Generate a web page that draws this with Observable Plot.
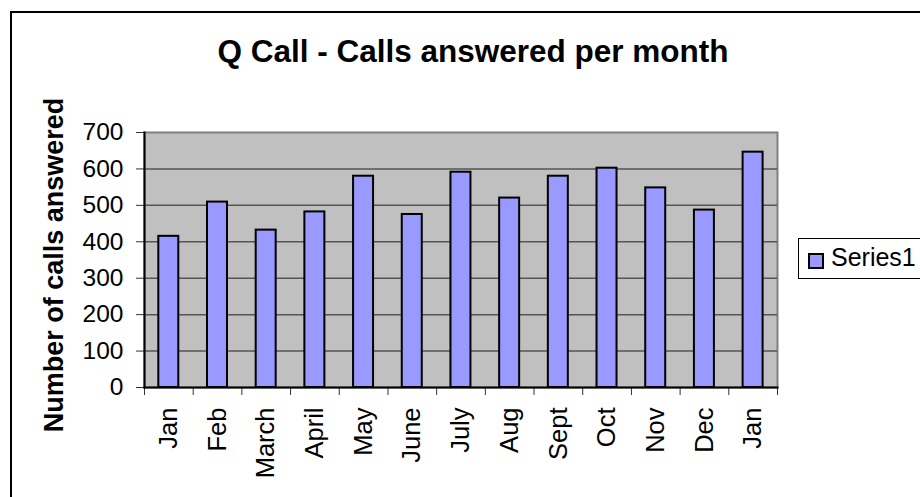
<!DOCTYPE html>
<html><head><meta charset="utf-8">
<script src="https://cdn.jsdelivr.net/npm/d3@7"></script>
<script src="https://cdn.jsdelivr.net/npm/@observablehq/plot@0.6"></script>
<style>
body{margin:0;background:#fff;font-family:Arial,"Liberation Sans",sans-serif;}
#wrap{position:relative;width:920px;height:497px;overflow:hidden;}
#border{position:absolute;left:10px;top:11px;width:1000px;height:1000px;border:2px solid #000;box-sizing:border-box;pointer-events:none;}
#legend{position:absolute;left:798px;top:238px;width:200px;height:41px;border:1px solid #000;box-sizing:border-box;background:#fff;}
#legend .sw{position:absolute;left:9px;top:14px;width:12px;height:12px;background:#9999ff;border:2px solid #000;}
#legend .lb{position:absolute;left:32px;top:6px;font-size:25px;line-height:25px;color:#000;white-space:nowrap;}
</style></head>
<body>
<div id="wrap">
<div id="chart"></div>
<div id="border"></div>
<div id="legend"><div class="sw"></div><div class="lb">Series1</div></div>
</div>
<script>
const months = ["Jan","Feb","March","April","May","June","July","Aug","Sept","Oct","Nov","Dec","Jan"];
const calls = [415, 509, 432, 482, 580, 475, 591, 520, 580, 602, 548, 487, 646];
const yTicks = [0,100,200,300,400,500,600,700];
const title = "Q Call - Calls answered per month";
const yLabel = "Number of calls answered";

const data = months.map((m,i)=>({i, m, v: calls[i]}));
const font = "Arial, 'Liberation Sans', sans-serif";

const chart = Plot.plot({
  width: 920, height: 497,
  marginLeft: 144, marginRight: 143, marginTop: 132, marginBottom: 110,
  style: {fontFamily: font, fontSize: "24.5px", color: "#000", background: "transparent", overflow: "visible"},
  x: {domain: [0, months.length], axis: null},
  y: {domain: [0, 700], axis: null},
  marks: [
    Plot.frame({fill: "#c0c0c0", stroke: "#808080", strokeWidth: 2}),
    Plot.ruleY(yTicks.slice(1, -1), {stroke: "#555", strokeWidth: 1.5}),
    Plot.rectY(data, {x1: "i", x2: d => d.i + 1, y: "v", insetLeft: 14.3, insetRight: 14.4, fill: "#9999ff", stroke: "#000", strokeWidth: 2}),
    Plot.axisY({ticks: yTicks, tickSize: 8, tickPadding: 13, tickFormat: d => d, label: null, fontSize: 24.5, stroke: "#333"}),
    Plot.axisX({ticks: d3.range(months.length + 1), tickSize: 8, tickFormat: () => "", label: null, stroke: "#333"}),
    Plot.axisX({ticks: d3.range(months.length).map(i => i + 0.5), tickSize: 0, tickPadding: 20, tickRotate: -90, tickFormat: d => months[Math.floor(d)], label: null, fontSize: 25.5}),
    Plot.frame({anchor: "left", stroke: "#000", strokeWidth: 2}),
    Plot.frame({anchor: "bottom", stroke: "#000", strokeWidth: 2}),
    Plot.text([title], {frameAnchor: "top", lineAnchor: "middle", dx: 12, dy: -81, text: d => d, fontSize: 31.5, fontWeight: "bold", fill: "#000"}),
    Plot.text([yLabel], {frameAnchor: "left", textAnchor: "middle", lineAnchor: "middle", dx: -90, dy: 5, rotate: -90, text: d => d, fontSize: 27, fontWeight: "bold", fill: "#000"})
  ]
});
document.getElementById("chart").appendChild(chart);
</script>
</body></html>
